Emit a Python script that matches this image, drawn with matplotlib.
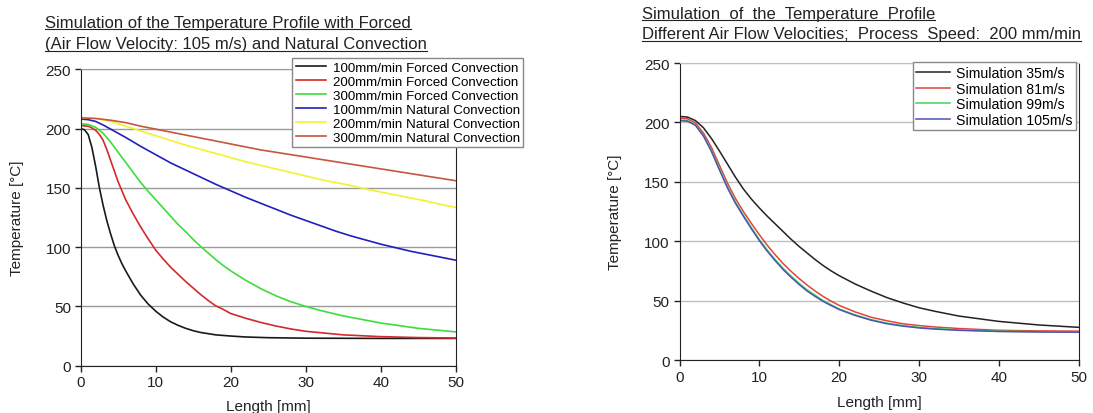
import matplotlib
matplotlib.use('Agg')
import matplotlib.pyplot as plt
from matplotlib.lines import Line2D

plt.rcParams['font.family'] = ['Liberation Sans', 'DejaVu Sans']

# Left chart: forced (105 m/s) vs natural convection at three process speeds
x_f100 = [0, 0.5, 1, 1.5, 2, 2.5, 3, 3.5, 4, 4.5, 5, 5.5, 6, 7, 8, 9, 10, 11, 12, 13, 14, 15, 16, 18, 20, 22, 25, 30, 40, 50]
t_f100 = [200, 199, 195, 184, 168, 150, 135, 122, 111, 101, 93, 86, 80, 69, 59.5, 52, 46, 41, 37, 34, 31.5, 29.5, 28, 26, 25, 24.2, 23.6, 23.2, 23, 23]

x_f200 = [0, 1, 1.5, 2, 2.5, 3, 3.5, 4, 4.5, 5, 6, 7, 8, 9, 10, 11, 12, 13, 14, 15, 16, 17, 18, 19, 20, 22, 24, 26, 28, 30, 35, 40, 45, 50]
t_f200 = [202.5, 202, 200.5, 198.5, 195, 190, 182, 173, 164, 155, 140, 128, 117, 107, 97.5, 90, 83, 77, 71, 65.5, 60, 55, 50.5, 47.5, 44, 40, 36.5, 33.5, 31, 29, 26, 24.5, 23.7, 23.3]

x_f300 = [0, 1, 2, 3, 4, 5, 6, 7, 8, 9, 10, 11, 12, 13, 14, 15, 16, 17, 18, 19, 20, 22, 24, 26, 28, 30, 32, 35, 40, 45, 50]
t_f300 = [204, 203.5, 201, 196, 188.5, 180, 171.5, 163, 154.5, 147, 140, 133, 126, 119, 113, 106.5, 100.5, 95, 89.5, 84.5, 80, 72, 65, 59, 54, 50, 46.5, 42, 36, 31.5, 28.5]

x_n100 = [0, 1, 2, 3, 4, 5, 6, 8, 10, 12, 14, 16, 18, 20, 22, 24, 26, 28, 30, 32, 34, 36, 38, 40, 42, 44, 46, 48, 50]
t_n100 = [208, 207.5, 206, 203, 199.5, 196, 192.5, 185, 178, 171, 165, 159, 153, 147.5, 142, 137, 132, 127, 122.5, 118, 113.5, 109.5, 106, 102.5, 99.5, 96.5, 94, 91.5, 89]

x_nat = [0, 2, 4, 6, 8, 10, 12, 14, 16, 18, 20, 22, 24, 26, 28, 30, 32, 34, 36, 38, 40, 42, 44, 46, 48, 50]
t_n200 = [209, 208.5, 206, 202, 198, 194, 190, 186, 182.5, 179, 175.5, 172, 169, 166, 163, 160, 157, 154.5, 152, 149, 146.5, 144, 141.5, 139, 136, 133.5]
t_n300 = [209, 208.5, 207, 205, 202, 199.5, 197, 194.5, 192, 189.5, 187, 184.5, 182, 180, 178, 176, 174, 172, 170, 168, 166, 164, 162, 160, 158, 156]

left_labels = ['100mm/min Forced Convection', '200mm/min Forced Convection', '300mm/min Forced Convection',
               '100mm/min Natural Convection', '200mm/min Natural Convection', '300mm/min Natural Convection']
left_colors = ['#1a1a1a', '#d42a2a', '#3ddc3d', '#2020c0', '#f2f22e', '#c8553d']

# Right chart: air flow velocities at 200 mm/min
x_vel = [0, 1, 2, 3, 4, 5, 6, 7, 8, 9, 10, 11, 12, 13, 14, 15, 16, 17, 18, 19, 20, 22, 24, 26, 28, 30, 32, 35, 40, 45, 50]
t_v35 = [205, 204.5, 201.5, 195.5, 186.5, 176, 165, 154, 144, 135.5, 128, 121, 114.5, 108, 101.5, 95.5, 90, 84.5, 79.5, 75, 71, 64, 58, 52.5, 48, 44, 41, 37, 32.5, 29.5, 27.5]
t_v81 = [203.5, 203, 199.5, 191, 179, 164, 149, 136, 125, 115, 105.5, 96.5, 88.5, 81, 74.5, 68.5, 63, 58, 53.5, 49.5, 46, 40.5, 36, 33, 30.5, 29, 27.8, 26.5, 25, 24.5, 24.3]
t_v99 = [202, 201.5, 198, 189, 176.5, 161, 146, 133, 122, 111.5, 101.5, 92.5, 84.5, 77, 70.5, 64.5, 59, 54.5, 50, 46.5, 43, 38, 34, 31, 29, 27.5, 26.5, 25.3, 24.2, 23.8, 23.6]
t_v105 = [201.5, 201, 197.5, 188.5, 175.5, 160, 145, 132, 121, 110.5, 100.5, 91.5, 83.5, 76, 69.5, 63.5, 58, 53.5, 49.3, 45.8, 42.5, 37.5, 33.5, 30.5, 28.5, 27, 26, 25, 24, 23.6, 23.4]

right_labels = ['Simulation 35m/s', 'Simulation 81m/s', 'Simulation 99m/s', 'Simulation 105m/s']
right_colors = ['#222222', '#e0443c', '#3cd85a', '#5050b8']

fig = plt.figure(figsize=(10.93, 4.14), dpi=100)
ax1 = fig.add_axes([0.0738, 0.1143, 0.3431, 0.716])
ax2 = fig.add_axes([0.6217, 0.128, 0.3651, 0.7174])

left_series = [(x_f100, t_f100), (x_f200, t_f200), (x_f300, t_f300),
               (x_n100, t_n100), (x_nat, t_n200), (x_nat, t_n300)]
for (xs, ys), lab, col in zip(left_series, left_labels, left_colors):
    ax1.plot(xs, ys, color=col, lw=1.2, label=lab)

for ys, lab, col in zip([t_v35, t_v81, t_v99, t_v105], right_labels, right_colors):
    ax2.plot(x_vel, ys, color=col, lw=1.1, label=lab)

for ax, gcol in [(ax1, '#9a9a9a'), (ax2, '#c0c0c0')]:
    ax.set_xlim(0, 50)
    ax.set_ylim(0, 250)
    ax.set_xticks([0, 10, 20, 30, 40, 50])
    ax.set_yticks([0, 50, 100, 150, 200, 250])
    ax.yaxis.grid(True, color=gcol, lw=1)
    ax.set_axisbelow(True)
    ax.tick_params(direction='out', length=4, width=1, labelsize=11, pad=3, colors='#222222')
    ax.spines['left'].set_color('#222222')
    ax.spines['bottom'].set_color('#222222')
    ax.spines['right'].set_color('#222222')
    ax.spines['top'].set_color(gcol)
    ax.set_xlabel('Length [mm]', fontsize=11, color='#222222')
    ax.set_ylabel('Temperature [°C]', fontsize=11, color='#222222')

ax1.xaxis.set_label_coords(0.5, -0.112)
ax1.yaxis.set_label_coords(-0.15, 0.5)
ax2.xaxis.set_label_coords(0.5, -0.118)
ax2.yaxis.set_label_coords(-0.145, 0.5)

ax1.legend(loc='upper right', bbox_to_anchor=(0.4788, 0.8568), bbox_transform=fig.transFigure,
           fancybox=False, edgecolor='#888888', framealpha=1, fontsize=9.6,
           handlelength=2.3, handletextpad=0.5, borderpad=0.25, labelspacing=0.12, borderaxespad=0)
ax2.legend(loc='upper right', bbox_to_anchor=(0.9845, 0.8471), bbox_transform=fig.transFigure,
           fancybox=False, edgecolor='#888888', framealpha=1, fontsize=10.2,
           handlelength=2.35, handletextpad=0.45, borderpad=0.25, labelspacing=0.12, borderaxespad=0)

# titles, underlined like the original
titles = [(45, 23.7, 'Simulation of the Temperature Profile with Forced'),
          (45, 45, '(Air Flow Velocity: 105 m/s) and Natural Convection'),
          (642, 14, 'Simulation  of  the  Temperature  Profile'),
          (642, 35, 'Different Air Flow Velocities;  Process  Speed:  200 mm/min')]
texts = []
for px, py, s in titles:
    texts.append(fig.text(px / 1093, 1 - py / 414, s, fontsize=12, ha='left', va='center', color='#222222'))

fig.canvas.draw()
inv = fig.transFigure.inverted()
for t in texts:
    bb = t.get_window_extent()
    (x0, y0), (x1, _) = inv.transform([(bb.x0, bb.y0 + 1), (bb.x1, bb.y1)])
    fig.add_artist(Line2D([x0, x1], [y0, y0], transform=fig.transFigure, color='#222222', lw=0.8))

fig.savefig('out.png', dpi=100)
